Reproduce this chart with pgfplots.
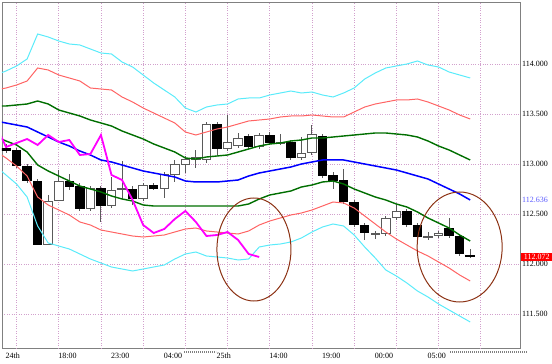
\documentclass[border=0pt]{standalone}
\usepackage{pgfplots}
\pgfplotsset{compat=1.18}
\usepackage{pgfplotstable}
\usepackage{fontspec}
\setmainfont{Liberation Serif}
\definecolor{cyanc}{RGB}{90,235,250}
\definecolor{redc}{RGB}{255,100,100}
\definecolor{greenc}{RGB}{0,110,0}
\definecolor{bluec}{RGB}{0,0,255}
\definecolor{magc}{RGB}{255,0,255}
\definecolor{gridc}{RGB}{210,160,205}
\definecolor{brownc}{RGB}{140,50,20}
\definecolor{wickc}{RGB}{90,90,90}
\definecolor{framec}{RGB}{128,128,128}
\definecolor{lblblue}{RGB}{90,90,255}

\pgfplotstableread{
k top bot hi lo
0 113.16 113.13 113.20 113.11
1 113.14 112.98 113.16 112.96
2 112.98 112.83 113.00 112.81
3 112.83 112.19 112.85 112.19
6 112.83 112.77 112.90 112.74
7 112.78 112.55 112.81 112.53
9 112.76 112.58 112.78 112.42
12 112.75 112.65 112.78 112.59
14 112.79 112.75 112.81 112.74
20 113.40 113.15 113.42 113.09
23 113.28 113.17 113.30 113.15
25 113.29 113.21 113.32 113.19
27 113.22 113.06 113.24 113.04
30 113.28 112.88 113.30 112.86
31 112.89 112.83 112.92 112.75
32 112.84 112.62 112.95 112.60
33 112.62 112.39 112.64 112.37
34 112.39 112.31 112.41 112.24
38 112.53 112.39 112.55 112.37
39 112.39 112.27 112.41 112.25
42 112.36 112.28 112.46 112.26
43 112.28 112.10 112.30 112.08
44 112.09 112.07 112.15 112.06
}\blackc

\pgfplotstableread{
k top bot hi lo
4 112.63 112.19 112.69 112.19
5 112.83 112.63 112.94 112.63
8 112.76 112.55 112.78 112.53
10 112.74 112.58 112.87 112.56
11 112.76 112.74 113.03 112.65
13 112.79 112.65 112.81 112.63
15 112.90 112.75 112.92 112.66
16 113.00 112.89 113.04 112.82
17 113.05 112.99 113.08 112.91
18 113.07 113.04 113.14 112.96
19 113.40 113.04 113.42 113.01
21 113.22 113.15 113.49 113.13
22 113.26 113.18 113.31 113.16
24 113.29 113.17 113.31 113.15
26 113.22 113.20 113.30 113.19
28 113.11 113.06 113.27 113.04
29 113.30 113.11 113.39 113.09
35 112.31 112.29 112.33 112.25
36 112.46 112.30 112.48 112.28
37 112.53 112.46 112.59 112.44
40 112.28 112.26 112.32 112.24
41 112.31 112.28 112.33 112.26
}\whitec

\pgfplotstableread{
k cu ru gu bl gl rl cl
-1 113.89 113.74 113.58 113.43 113.28 113.13 112.98
0 113.93 113.76 113.58 113.41 113.23 113.06 112.89
1 113.98 113.79 113.59 113.39 113.19 112.98 112.80
2 114.05 113.83 113.60 113.37 113.12 112.88 112.67
3 114.30 113.96 113.63 113.32 112.99 112.67 112.38
4 114.27 113.94 113.60 113.27 112.93 112.59 112.21
5 114.23 113.89 113.54 113.22 112.88 112.54 112.18
6 114.20 113.86 113.51 113.18 112.83 112.49 112.15
7 114.19 113.83 113.48 113.13 112.78 112.42 112.10
8 114.15 113.76 113.44 113.09 112.75 112.39 112.05
9 114.11 113.75 113.41 113.04 112.72 112.34 112.01
10 114.10 113.74 113.38 113.02 112.68 112.32 111.97
11 114.02 113.67 113.33 112.99 112.65 112.30 111.95
12 113.97 113.62 113.29 112.96 112.63 112.28 111.93
13 113.89 113.56 113.25 112.93 112.59 112.27 111.95
14 113.81 113.51 113.20 112.91 112.58 112.28 111.97
15 113.74 113.46 113.16 112.89 112.58 112.29 111.99
16 113.67 113.41 113.12 112.87 112.58 112.32 112.05
17 113.56 113.32 113.06 112.83 112.58 112.35 112.10
18 113.52 113.29 113.05 112.82 112.58 112.36 112.12
19 113.57 113.32 113.07 112.82 112.58 112.33 112.08
20 113.59 113.35 113.08 112.82 112.58 112.32 112.07
21 113.60 113.37 113.09 112.83 112.58 112.31 112.06
22 113.65 113.40 113.12 112.84 112.58 112.30 112.04
23 113.66 113.43 113.15 112.88 112.60 112.33 112.05
24 113.66 113.44 113.18 112.91 112.65 112.39 112.17
25 113.69 113.45 113.20 112.93 112.69 112.43 112.19
26 113.71 113.47 113.21 112.95 112.71 112.46 112.20
27 113.73 113.48 113.23 112.97 112.73 112.49 112.22
28 113.71 113.48 113.24 113.00 112.77 112.51 112.26
29 113.72 113.49 113.26 113.02 112.79 112.54 112.32
30 113.69 113.48 113.26 113.04 112.82 112.58 112.37
31 113.67 113.47 113.27 113.04 112.83 112.62 112.40
32 113.71 113.47 113.28 113.04 112.80 112.61 112.38
33 113.76 113.52 113.29 113.02 112.75 112.56 112.29
34 113.85 113.57 113.30 113.00 112.71 112.48 112.17
35 113.91 113.60 113.31 112.98 112.67 112.40 112.06
36 113.96 113.62 113.31 112.96 112.64 112.32 111.94
37 113.98 113.64 113.30 112.94 112.60 112.25 111.88
38 114.00 113.64 113.29 112.91 112.57 112.19 111.81
39 114.03 113.65 113.27 112.88 112.52 112.13 111.73
40 113.99 113.62 113.23 112.85 112.46 112.08 111.67
41 113.97 113.58 113.18 112.80 112.41 112.02 111.60
42 113.92 113.54 113.14 112.75 112.36 111.96 111.54
43 113.89 113.49 113.09 112.70 112.29 111.89 111.48
44 113.86 113.45 113.04 112.64 112.23 111.83 111.42
}\bands

\pgfplotstableread{
k m
-1 113.40
0 113.17
1 113.21
2 113.25
3 113.19
4 113.29
5 113.22
6 113.24
7 113.09
8 113.10
9 113.29
10 112.89
11 112.84
12 112.64
13 112.39
14 112.31
15 112.35
16 112.45
17 112.53
18 112.42
19 112.28
20 112.29
21 112.32
22 112.24
23 112.10
24 112.07
}\lag

\begin{document}
\begin{tikzpicture}
\begin{axis}[
  scale only axis, width=518bp, height=346bp,
  xmin=-0.38, xmax=48.72, ymin=111.16, ymax=114.62,
  clip mode=individual,
  axis line style={draw=framec, line width=0.8bp},
  major tick length=0pt,
  xtick={0,5,10,15,20,25,30,35,40},
  xticklabels={24th,18:00,23:00,04:00,25th,14:00,19:00,00:00,05:00},
  xticklabel style={anchor=north west, inner sep=0pt, yshift=-5bp, xshift=-0.5bp},
  extra x ticks={1,5,9,13,17,21,25,29,33,37,41,45},
  extra x tick labels={},
  extra x tick style={grid=major},
  ytick={111.5,112,112.5,113,113.5,114},
  ymajorgrids,
  grid style={dotted, color=gridc, line width=0.7bp},
  yticklabel pos=right,
  /pgf/number format/assume math mode=true,
  yticklabel style={/pgf/number format/.cd, fixed, precision=3, fixed zerofill, assume math mode=true, /tikz/.cd, anchor=west, inner sep=0pt, xshift=2bp},
  tick label style={font=\fontsize{8bp}{9bp}\selectfont, text=black},
  axis on top=false,
]
% wicks
\addplot[forget plot, draw=none, mark=none, error bars/.cd, y dir=plus, y explicit, error mark=none,
  error bar style={draw=wickc, line width=1bp}]
  table[x=k, y=lo, y error plus expr=\thisrow{hi}-\thisrow{lo}] {\blackc};
\addplot[forget plot, draw=none, mark=none, error bars/.cd, y dir=plus, y explicit, error mark=none,
  error bar style={draw=wickc, line width=1bp}]
  table[x=k, y=lo, y error plus expr=\thisrow{hi}-\thisrow{lo}] {\whitec};
% black bodies
\addplot[forget plot, draw=none, mark=none, error bars/.cd, y dir=plus, y explicit, error mark=none,
  error bar style={draw=black, line width=9.5bp}]
  table[x=k, y=bot, y error plus expr=\thisrow{top}-\thisrow{bot}] {\blackc};
% white bodies
\addplot[forget plot, draw=none, mark=none, error bars/.cd, y dir=plus, y explicit, error mark=none,
  error bar style={draw=wickc, line width=9.5bp}]
  table[x=k, y=bot, y error plus expr=\thisrow{top}-\thisrow{bot}] {\whitec};
\addplot[forget plot, draw=none, mark=none, error bars/.cd, y dir=plus, y explicit, error mark=none,
  error bar style={draw=white, line width=7.5bp}]
  table[x=k, y expr=\thisrow{bot}+0.01, y error plus expr=\thisrow{top}-\thisrow{bot}-0.02] {\whitec};
% bands
\addplot[cyanc, line width=1bp, mark=none] table[x=k, y=cu] {\bands};
\addplot[cyanc, line width=1bp, mark=none] table[x=k, y=cl] {\bands};
\addplot[redc, line width=1bp, mark=none] table[x=k, y=ru] {\bands};
\addplot[redc, line width=1bp, mark=none] table[x=k, y=rl] {\bands};
\addplot[greenc, line width=1.4bp, mark=none] table[x=k, y=gu] {\bands};
\addplot[greenc, line width=1.4bp, mark=none] table[x=k, y=gl] {\bands};
\addplot[bluec, line width=1.5bp, mark=none] table[x=k, y=bl] {\bands};
\addplot[magc, line width=1.8bp, mark=none] table[x=k, y=m] {\lag};
% annotations
\draw[brownc, line width=1bp] (axis cs:23.5,112.145) ellipse [x radius=3.51, y radius=0.515];
\draw[brownc, line width=1bp] (axis cs:43.0,112.17) ellipse [x radius=4.03, y radius=0.55];
\node[anchor=west, inner sep=0pt, xshift=2bp, text=lblblue, font=\fontsize{8bp}{9bp}\selectfont] at (axis cs:48.72,112.636) {112.636};
\node[anchor=west, inner sep=1bp, xshift=1bp, fill=red, text=white, font=\fontsize{8bp}{9bp}\selectfont, minimum width=31bp] at (axis cs:48.72,112.072) {112.072};
\coordinate (SW) at (rel axis cs:0,0);
\coordinate (NE) at (rel axis cs:1,1);
\end{axis}
\draw[gray, line width=1.5bp, dash pattern=on 1bp off 1bp] ([shift={(182bp,-4bp)}]SW) -- ++(32bp,0);
\draw[gray, line width=1.5bp, dash pattern=on 1bp off 1bp] ([shift={(448bp,-4bp)}]SW) -- ++(77bp,0);
\pgfresetboundingbox
\path ([shift={(-2bp,-16bp)}]SW) rectangle ([shift={(32bp,2bp)}]NE);
\end{tikzpicture}
\end{document}
